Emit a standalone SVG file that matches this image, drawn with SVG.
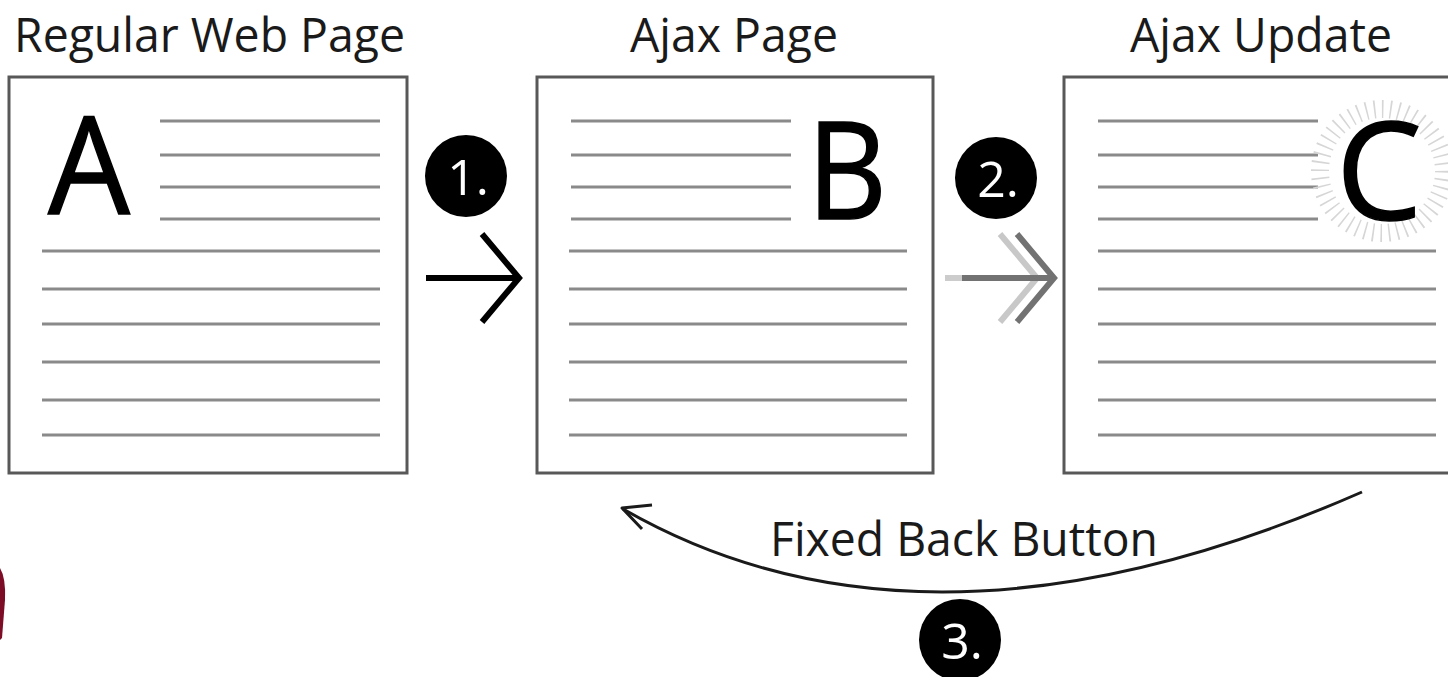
<svg xmlns="http://www.w3.org/2000/svg" width="1448" height="677" viewBox="0 0 1448 677">
  <style>
    .page { fill: #ffffff; stroke: #585858; stroke-width: 3; }
    .rule { stroke: #8a8a8a; stroke-width: 3; stroke-linecap: butt; }
    .title { font-family: "Open Sans", "Noto Sans", sans-serif; font-size: 48px; fill: #1a1a1a; }
    .big { font-family: "Open Sans", "Noto Sans", sans-serif; font-size: 136px; fill: #000000; stroke: #000000; stroke-width: 1.5; }
    .badge { fill: #000000; }
    .badge-num { font-family: "Open Sans", "Noto Sans", sans-serif; font-size: 50px; fill: #ffffff; text-anchor: middle; }
    .label { font-family: "Open Sans", "Noto Sans", sans-serif; font-size: 48px; fill: #1a1a1a; }
  </style>
  <defs>
    <g id="rules-full">
      <line class="rule" x1="0" y1="251" x2="338" y2="251"/>
      <line class="rule" x1="0" y1="289" x2="338" y2="289"/>
      <line class="rule" x1="0" y1="324" x2="338" y2="324"/>
      <line class="rule" x1="0" y1="362" x2="338" y2="362"/>
      <line class="rule" x1="0" y1="400" x2="338" y2="400"/>
      <line class="rule" x1="0" y1="435" x2="338" y2="435"/>
    </g>
    <g id="rules-short">
      <line class="rule" x1="0" y1="121" x2="220" y2="121" stroke="#9a9a9a"/>
      <line class="rule" x1="0" y1="155" x2="220" y2="155"/>
      <line class="rule" x1="0" y1="187" x2="220" y2="187"/>
      <line class="rule" x1="0" y1="219" x2="220" y2="219"/>
    </g>
  </defs>

  <rect width="1448" height="677" fill="#ffffff"/>

  <!-- Page A: regular web page -->
  <g id="page-a">
    <text class="title" x="14" y="52" textLength="391" lengthAdjust="spacingAndGlyphs">Regular Web Page</text>
    <rect class="page" x="9" y="77" width="398" height="396"/>
    <use href="#rules-short" x="160"/>
    <use href="#rules-full" x="42"/>
    <text class="big" x="48" y="214" textLength="82" lengthAdjust="spacingAndGlyphs">A</text>
  </g>

  <!-- Page B: Ajax page -->
  <g id="page-b">
    <text class="title" x="630" y="52" textLength="208" lengthAdjust="spacingAndGlyphs">Ajax Page</text>
    <rect class="page" x="537" y="77" width="396" height="396"/>
    <use href="#rules-short" x="571"/>
    <use href="#rules-full" x="569"/>
    <text class="big" x="807" y="219" textLength="80" lengthAdjust="spacingAndGlyphs">B</text>
  </g>

  <!-- Page C: Ajax update with highlight burst -->
  <g id="page-c">
    <text class="title" x="1130" y="52" textLength="262" lengthAdjust="spacingAndGlyphs">Ajax Update</text>
    <rect class="page" x="1064" y="77" width="400" height="396"/>
    <use href="#rules-short" x="1098"/>
    <use href="#rules-full" x="1098"/>
    <circle cx="1382" cy="171" r="62" fill="none" stroke="#d6d6d6" stroke-width="18" stroke-dasharray="1.6 6.5"/>
    <text class="big" x="1336" y="220" textLength="86" lengthAdjust="spacingAndGlyphs">C</text>
  </g>

  <!-- Connectors -->
  <g id="connectors" fill="none" stroke-linejoin="miter">
    <!-- step 1: plain arrow -->
    <g id="arrow-1" stroke="#000000" stroke-width="6">
      <line x1="426" y1="278" x2="517" y2="278"/>
      <polyline points="482,234 519,278 482,322"/>
    </g>
    <!-- step 2: doubled arrow, fading trail -->
    <g id="arrow-2" stroke-width="6">
      <line x1="945" y1="278" x2="962" y2="278" stroke="#cccccc"/>
      <polyline points="1000,234 1037,278 1000,322" stroke="#c8c8c8"/>
      <line x1="962" y1="278" x2="1052" y2="278" stroke="#727272"/>
      <polyline points="1017,234 1054,278 1017,322" stroke="#727272"/>
    </g>
    <!-- step 3: back button, curved return -->
    <g id="arrow-3" stroke="#1a1a1a" stroke-width="3">
      <path d="M1362,492 Q926,683 623,509"/>
      <polyline points="652,505 622,508 642,529" stroke-linejoin="round"/>
    </g>
  </g>
  <text class="label" x="770" y="556" textLength="388" lengthAdjust="spacingAndGlyphs">Fixed Back Button</text>

  <!-- Step badges -->
  <g id="badge-1">
    <circle class="badge" cx="466" cy="176" r="41"/>
    <text class="badge-num" x="468" y="195">1.</text>
  </g>
  <g id="badge-2">
    <circle class="badge" cx="996" cy="178" r="41"/>
    <text class="badge-num" x="998" y="197">2.</text>
  </g>
  <g id="badge-3">
    <circle class="badge" cx="960" cy="640" r="41"/>
    <text class="badge-num" x="962" y="659">3.</text>
  </g>

  <!-- edge sliver, lower left -->
  <path d="M0,568 Q6,578 5,600 L2,638 L0,640 Z" fill="#7d0c27"/>
</svg>
